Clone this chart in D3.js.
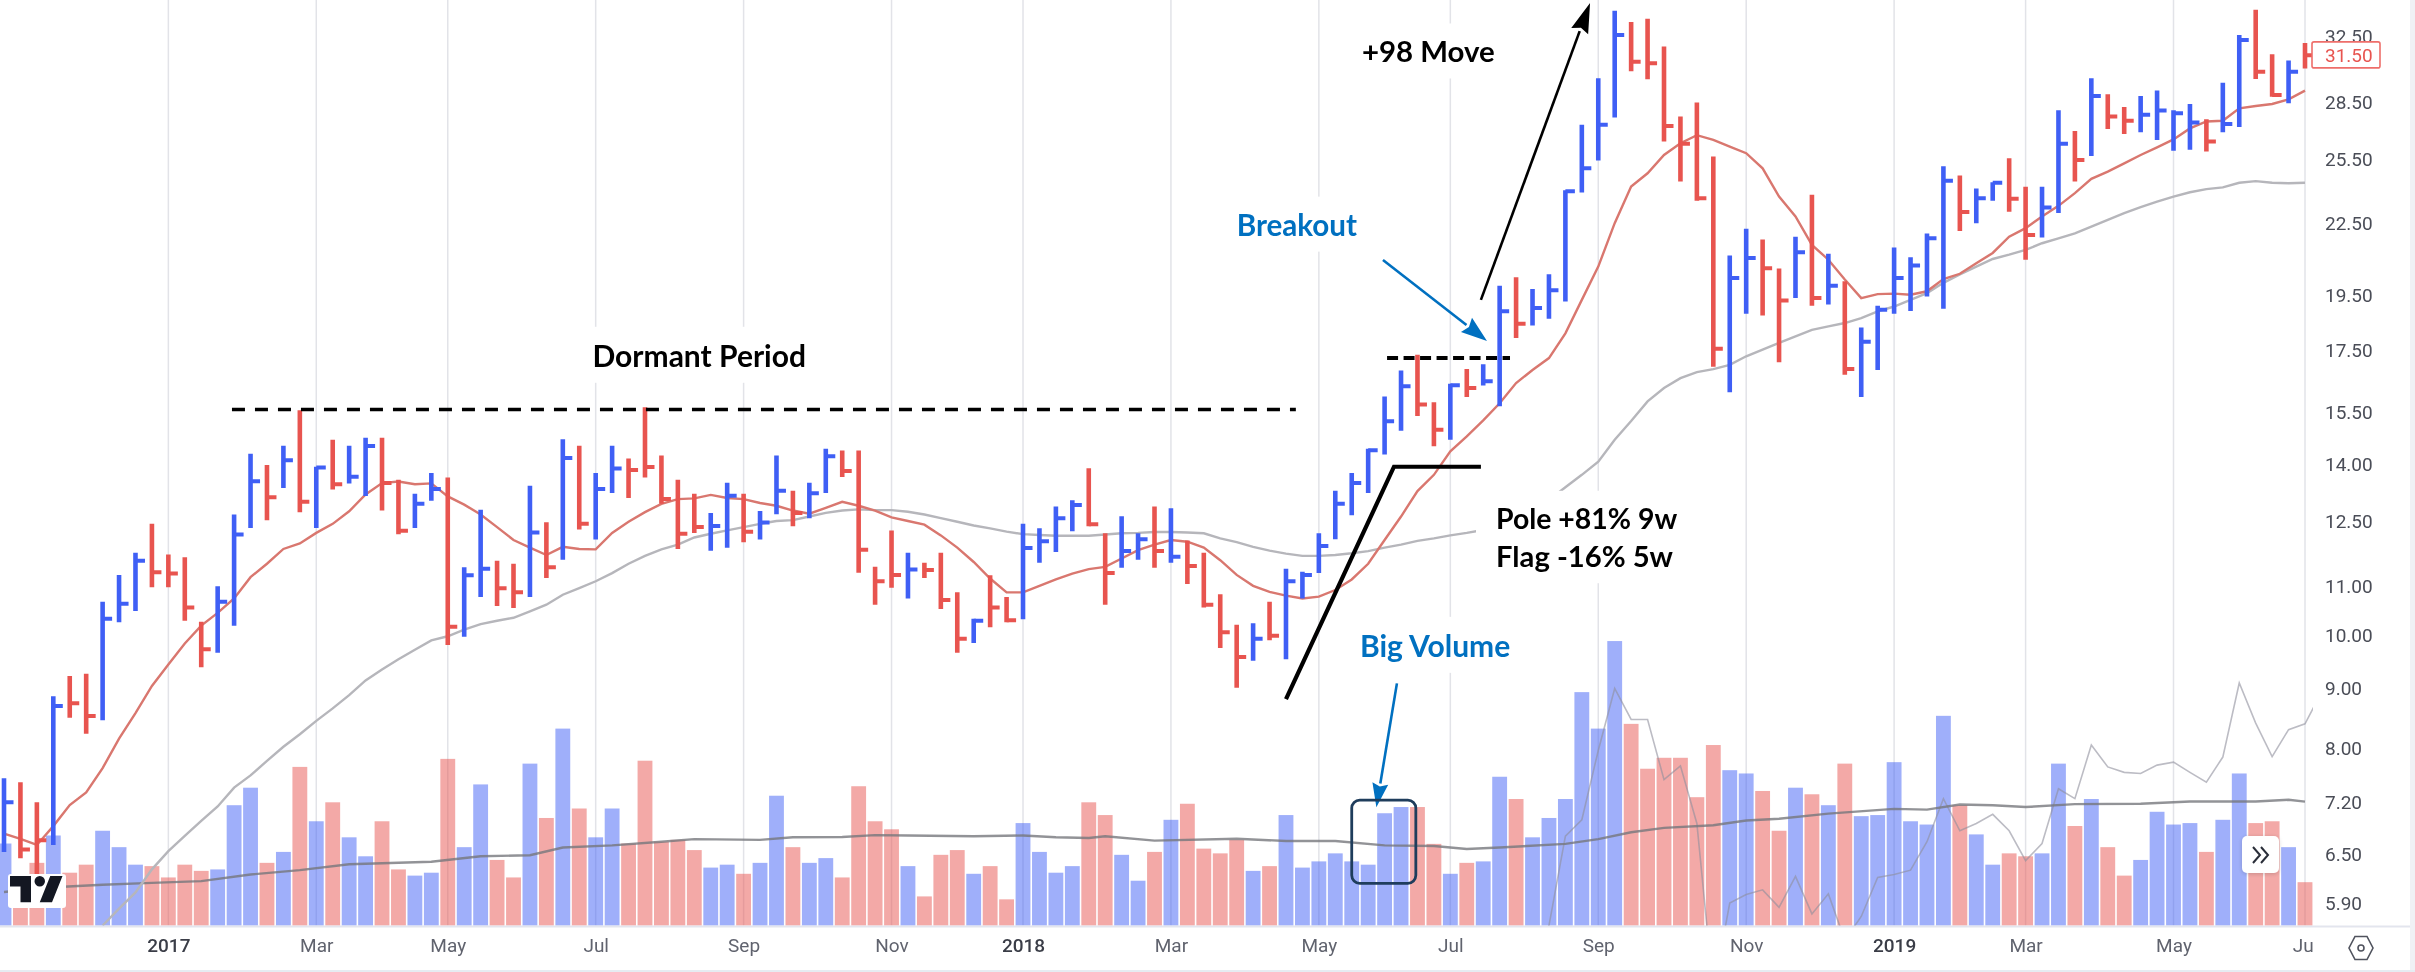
<!DOCTYPE html>
<html><head><meta charset="utf-8">
<script src="https://d3js.org/d3.v7.min.js"></script>
<style>html,body{margin:0;padding:0;background:#fff;overflow:hidden}svg{display:block;filter:blur(0.5px)}</style>
</head><body><div id="chart"></div>
<script>
const barHigh=[7.55,7.49,7.20,8.87,9.23,9.27,10.68,11.26,11.76,12.45,11.72,11.66,10.27,11.01,12.68,14.29,13.98,14.52,15.57,13.93,14.69,14.52,14.75,14.75,13.58,13.21,13.76,13.64,11.43,12.80,11.58,11.51,13.42,12.49,14.70,14.52,13.76,14.52,14.16,15.66,14.24,13.58,13.21,12.72,13.50,13.21,12.77,14.24,13.29,
13.50,14.43,14.38,14.38,11.44,12.29,11.76,11.53,11.76,10.88,10.33,11.25,10.78,12.45,12.34,12.88,13.04,13.89,12.22,12.64,12.22,12.88,12.84,12.05,11.76,10.84,10.21,10.24,10.68,11.40,11.33,12.22,13.29,13.76,14.43,
15.99,16.83,17.36,15.81,16.40,16.88,17.04,19.89,20.22,19.76,20.34,24.00,27.30,29.91,34.15,33.40,33.62,31.84,27.74,28.52,25.64,21.11,22.25,21.78,20.57,21.90,23.78,21.18,20.06,18.32,19.12,21.44,21.03,22.04,25.16,24.70,24.08,24.38,25.56,24.16,24.16,28.09,26.96,29.91,28.98,28.27,28.88,29.19,28.09,28.43,27.59,29.64,32.57,34.22,31.36,30.97,32.05];
const barLow=[6.53,6.45,6.23,6.62,8.50,8.24,8.46,10.26,10.49,10.99,10.99,10.29,9.39,9.66,10.19,12.35,12.54,13.36,12.74,12.35,13.32,13.48,13.15,12.78,12.20,12.35,13.03,9.81,9.97,10.78,10.59,10.55,10.78,11.19,11.60,12.31,12.07,13.23,13.10,13.64,12.95,11.85,12.23,11.81,11.88,12.01,12.07,12.69,12.39,
12.59,13.23,13.65,11.31,10.62,10.98,10.75,11.19,10.53,9.66,9.85,10.16,10.26,10.32,11.53,11.78,12.27,12.39,10.62,11.42,11.60,11.42,11.53,11.06,10.56,9.75,9.02,9.51,9.90,9.54,10.75,11.30,12.08,12.66,13.23,
14.27,14.95,15.39,14.50,14.69,15.98,16.34,15.69,17.94,18.39,18.64,19.28,23.89,25.44,27.69,30.32,29.85,26.41,24.41,23.51,16.96,16.13,18.82,18.76,17.11,19.41,19.12,19.17,16.69,15.98,16.85,18.82,18.92,19.47,19.01,22.15,22.49,23.51,23.00,20.93,21.87,22.94,24.41,25.67,27.07,26.80,26.90,26.49,25.93,25.98,25.90,26.90,27.17,29.87,28.84,28.47,30.49];
const barClose=[7.20,6.56,6.68,8.70,8.75,8.53,10.33,10.64,11.58,11.32,11.29,10.56,9.73,10.68,12.19,13.54,13.12,14.11,13.00,13.91,13.46,13.66,14.51,13.49,12.28,12.95,13.33,10.17,11.25,11.40,10.97,10.88,12.24,11.43,14.17,12.45,13.33,13.88,13.84,13.92,13.07,12.21,12.37,12.40,13.16,12.26,12.48,13.29,12.72,
13.22,14.22,13.81,11.83,11.12,11.26,11.38,11.37,10.72,9.93,10.29,10.56,10.30,11.87,12.03,12.59,12.92,12.44,11.30,11.80,12.08,11.80,11.67,11.46,10.62,10.06,9.58,9.93,9.99,11.12,11.26,11.92,12.95,13.49,14.39,
15.23,16.32,15.74,14.98,16.35,16.26,16.48,18.91,18.45,19.03,19.71,23.95,25.05,27.29,32.57,30.90,30.80,27.23,26.29,23.62,17.57,20.19,21.00,20.58,19.32,21.24,19.41,19.89,16.88,17.81,18.97,20.19,20.69,21.83,24.45,22.99,23.62,24.35,23.60,21.97,23.20,26.29,25.47,28.88,27.74,27.51,27.83,28.07,27.92,27.42,26.41,27.34,32.25,30.30,28.94,30.30,31.30];
const barUp=[1,0,0,1,0,0,1,1,1,0,0,0,0,1,1,1,0,1,0,1,0,1,1,0,0,1,1,0,1,1,0,0,1,0,1,0,1,1,0,0,0,0,0,1,1,0,1,1,0,
1,1,0,0,0,0,1,0,0,0,1,0,0,1,1,1,1,0,0,1,1,0,1,0,0,0,0,1,0,1,1,1,1,1,1,
1,1,0,0,1,0,1,1,0,1,1,1,1,1,1,0,0,0,0,0,0,1,1,0,0,1,0,1,0,1,1,1,1,1,1,0,1,1,0,0,1,1,0,1,0,0,1,1,1,1,0,1,1,0,0,1,0];
const volume=[22.5,14,17.2,24.7,14.5,16.7,26,21.5,16.7,16.3,13.2,16.7,15,15.4,33,37.8,17.2,20.2,43.5,28.6,33.8,24.2,19,28.6,15.4,13.7,14.5,45.7,21.5,38.7,18,13.2,44.4,29.5,54,32.1,24.2,32.1,22.5,45.2,23,23.5,20.7,15.9,16.7,14.2,17.2,35.6,21.5,
17.2,18.5,13.2,38.2,28.6,26.4,16.3,8,19.4,20.7,14.2,16.3,7.2,28.1,20.2,14.5,16.3,33.8,30.3,19.4,12.3,20.2,29,33.4,21.1,19.8,23.5,15,16.3,30.3,15.9,17.6,19.8,17.6,16.7,30.8,32.5,32.5,22.4,14.2,17.2,17.6,40.8,34.7,24.2,29.5,34.7,64,54,
78,55.3,43,46,46,35.2,49.5,42.6,41.7,36.9,26,37.8,36,33,44.4,30,30.3,44.8,28.6,27.7,57.5,33,25,16.7,19.8,19,19.8,44.4,27.3,34.7,21.5,13.7,18,31.2,27.7,28.1,20.2,29,41.7,28.1,28.6,21.5,11.9];
const ma10=[6.77,6.70,6.62,6.87,7.16,7.34,7.70,8.16,8.58,9.05,9.44,9.84,10.19,10.45,10.75,11.21,11.51,11.85,11.98,12.23,12.45,12.76,13.19,13.49,13.53,13.46,13.48,13.14,12.93,12.68,12.37,12.06,11.88,11.71,11.90,11.85,11.84,12.23,12.50,12.74,12.95,13.07,13.09,13.18,13.10,13.07,12.97,12.90,12.78,
12.70,12.85,13.00,12.90,12.78,12.61,12.52,12.43,12.17,11.88,11.55,11.18,10.88,10.88,11.02,11.16,11.29,11.39,11.44,11.63,11.82,11.95,12.06,12.02,11.88,11.59,11.26,11.02,10.89,10.81,10.75,10.79,10.93,11.16,11.51,12.06,12.63,13.28,
13.71,14.36,14.79,15.26,15.78,16.42,16.85,17.25,18.11,19.34,20.65,22.49,24.17,24.81,25.72,26.32,26.74,26.49,26.15,25.81,25.05,23.70,22.79,21.55,20.93,20.13,19.41,19.56,19.58,19.54,19.67,20.15,20.36,20.79,21.21,21.90,22.27,22.79,23.27,23.86,24.54,24.89,25.30,25.72,26.11,26.52,27.10,27.47,27.51,28.19,28.32,28.43,28.69,29.19];
const ma30Start=6;
const ma30=[5.65,5.84,6.03,6.31,6.54,6.74,6.94,7.14,7.41,7.59,7.81,8.03,8.23,8.45,8.66,8.89,9.15,9.35,9.54,9.72,9.90,9.98,10.11,10.22,10.29,10.35,10.48,10.62,10.83,10.97,11.12,11.30,11.51,11.69,11.84,11.95,12.12,12.21,12.29,12.37,12.45,12.52,12.54,
12.63,12.72,12.78,12.81,12.79,12.79,12.75,12.68,12.59,12.50,12.41,12.34,12.26,12.20,12.18,12.16,12.16,12.16,12.19,12.22,12.23,12.25,12.25,12.24,12.22,12.10,12.01,11.90,11.81,11.74,11.69,11.69,11.71,11.75,11.80,11.88,11.95,12.04,12.10,12.17,12.23,
12.30,12.45,12.60,12.80,13.05,13.38,13.71,14.07,14.69,15.24,15.84,16.26,16.58,16.78,16.88,17.02,17.31,17.54,17.77,18.00,18.23,18.36,18.48,18.66,18.91,19.09,19.34,19.60,20.00,20.33,20.65,20.96,21.14,21.34,21.62,21.83,22.04,22.34,22.64,22.94,23.21,23.46,23.70,23.90,24.05,24.13,24.35,24.43,24.35,24.33,24.35];
const volMaIdx=[0,3,6,9,12,15,18,21,26,29,32,34,37,40,42,46,48,51,53,55,59,62,64,66,67,70,75,78,81,84,87,89,91,95,97,99,101,104,106,108,111,115,117,119,121,123,126,130,133,137,139,140];
const volMa=[9.2,10.5,11.2,11.7,12.2,14,15.2,16.8,17.5,19,19.3,21.4,22,23,23.7,23.5,24.2,24.3,24.8,24.7,24.5,24.7,24.2,24,24.5,23.3,23.8,23.2,23.2,22,21.8,21,21.4,22.4,23.7,25.6,26.8,27.5,28.8,29.3,30.7,32,31.8,33.2,33,32.5,33.3,33.4,34,34,34.5,34];
const rsStart=93;
const rsLine=[-14,0,24.5,29,48,65,56.5,56.5,40,43.8,28,-18,6.2,8.5,9.8,5,13.5,3.2,8.7,-4,2.5,13.2,14,15.2,23,34.8,26,28,30.5,26,17.8,22.5,37.5,34.8,49.5,43.5,42,41.7,44,44.8,42,39.3,46.2,66.5,55.5,46.3,53.7,55.3,64];
const priceTicks=[32.5,28.5,25.5,22.5,19.5,17.5,15.5,14,12.5,11,10,9,8,7.2,6.5,5.9];
const timeTickIdx=[10,19,27,36,45,54,62,71,80,88,97,106,115,123,132,140];
const timeTickLabels=["2017","Mar","May","Jul","Sep","Nov","2018","Mar","May","Jul","Sep","Nov","2019","Mar","May","Jul"];
const lastPrice=31.5;

const W=2415,H=972,paneRight=2313,paneBottom=925.6;
const BLUE="#3f5ff5",RED="#e8544f";
const x=d3.scaleLinear().domain([0,140]).range([4,2305]);
const y=d3.scaleLog().domain([5.9,32.5]).range([903.5,36]);
const v=d3.scaleLinear().domain([0,100]).range([paneBottom,paneBottom-364.8]);
const bandW=x(1)-x(0);

const svg=d3.select("#chart").append("svg").attr("width",W).attr("height",H);
const defs=svg.append("defs");
defs.append("clipPath").attr("id","pane").append("rect").attr("x",0).attr("y",0).attr("width",paneRight).attr("height",paneBottom);
defs.append("clipPath").attr("id","timeclip").append("rect").attr("x",0).attr("y",paneBottom).attr("width",paneRight).attr("height",H-paneBottom);
const shadow=defs.append("filter").attr("id","soft").attr("x","-30%").attr("y","-30%").attr("width","160%").attr("height","160%");
shadow.append("feDropShadow").attr("dx",0).attr("dy",1).attr("stdDeviation",2).attr("flood-color","#000").attr("flood-opacity",0.18);

const axisFont='Roboto,"Liberation Sans",sans-serif';
// frame
svg.append("rect").attr("x",2410).attr("y",0).attr("width",5).attr("height",H).attr("fill","#f0f1f5");
svg.append("line").attr("x1",0).attr("x2",2410).attr("y1",paneBottom+1).attr("y2",paneBottom+1).attr("stroke","#e3e5ee").attr("stroke-width",2);
svg.append("line").attr("x1",0).attr("x2",W).attr("y1",971).attr("y2",971).attr("stroke","#e6ecf2").attr("stroke-width",2);

const pane=svg.append("g").attr("clip-path","url(#pane)");
// grid
pane.append("g").selectAll("line").data(timeTickIdx).join("line")
  .attr("x1",d=>x(d)).attr("x2",d=>x(d)).attr("y1",0).attr("y2",paneBottom)
  .attr("stroke","#e2e3e8").attr("stroke-width",1.5);

// volume
pane.append("g").selectAll("rect").data(volume).join("rect")
  .attr("x",(d,i)=>x(i)-bandW/2+0.8).attr("width",bandW-1.6)
  .attr("y",d=>v(d)).attr("height",d=>paneBottom-v(d))
  .attr("fill",(d,i)=>barUp[i]?BLUE:RED).attr("opacity",0.5);

const lineIdx=d3.line().x(d=>x(d[0])).y(d=>v(d[1]));
pane.append("path").attr("d",lineIdx(rsLine.map((d,i)=>[rsStart+i,d])))
  .attr("fill","none").attr("stroke","#8f8f9c").attr("stroke-opacity",0.6).attr("stroke-width",1.6);
pane.append("path").attr("d",lineIdx(volMa.map((d,i)=>[volMaIdx[i],d])))
  .attr("fill","none").attr("stroke","#77787d").attr("stroke-opacity",0.8).attr("stroke-width",2.4);

// price MAs
const priceLine=d3.line().x(d=>x(d[0])).y(d=>y(d[1]));
pane.append("path").attr("d",priceLine(ma30.map((d,i)=>[ma30Start+i,d])))
  .attr("fill","none").attr("stroke","#b6b6bb").attr("stroke-width",2.4);
pane.append("path").attr("d",priceLine(ma10.map((d,i)=>[i,d])))
  .attr("fill","none").attr("stroke","#d9776f").attr("stroke-width",2.4);

// HLC bars
const bars=pane.append("g").selectAll("g").data(barHigh).join("g")
  .attr("stroke",(d,i)=>barUp[i]?BLUE:RED);
bars.append("line").attr("x1",(d,i)=>x(i)).attr("x2",(d,i)=>x(i))
  .attr("y1",d=>y(d)).attr("y2",(d,i)=>y(barLow[i])).attr("stroke-width",4.6);
bars.append("line").attr("x1",(d,i)=>x(i)).attr("x2",(d,i)=>x(i)+9.5)
  .attr("y1",(d,i)=>y(barClose[i])).attr("y2",(d,i)=>y(barClose[i])).attr("stroke-width",4);

// axes
const yAxis=d3.axisRight(y).tickValues(priceTicks).tickFormat(d3.format(".2f")).tickSize(0).tickPadding(0);
const yg=svg.append("g").attr("transform","translate(2325,0)").call(yAxis);
yg.select(".domain").remove();
yg.selectAll("text").attr("font-family",axisFont).attr("font-size",19).attr("fill","#4a4d57");
const isYear=(i)=>/^\d/.test(timeTickLabels[i]);
const xAxis=d3.axisBottom(x).tickValues(timeTickIdx).tickFormat((d,i)=>timeTickLabels[i]).tickSize(0).tickPadding(0);
const xg=svg.append("g").attr("clip-path","url(#timeclip)").append("g").attr("transform","translate(0,938)").call(xAxis);
xg.select(".domain").remove();
xg.selectAll("text").attr("font-family",axisFont).attr("font-size",19)
  .attr("font-weight",(d,i)=>isYear(i)?500:400)
  .attr("fill",(d,i)=>isYear(i)?"#3a3d47":"#60636e");

// last price label
const lp=svg.append("g").attr("transform",`translate(2312,${y(lastPrice)+3})`);
lp.append("rect").attr("x",0).attr("y",-13).attr("width",68).attr("height",26).attr("rx",2).attr("fill","#fff").attr("stroke","#ee6e6a").attr("stroke-width",1.6);
lp.append("text").attr("x",13).attr("dy","0.35em").attr("font-family",axisFont).attr("font-size",19).attr("fill",RED).text(d3.format(".2f")(lastPrice));

// annotations (anchored in data space)
const annoFont='Lato,"Open Sans",sans-serif';
const labels=[
 {t:"Dormant Period",i:42.3,p:17.32,c:"#000",a:"middle",pl:16,s:30},
 {t:"+98 Move",i:82.62,p:31.5,c:"#000",a:"start",pl:16,s:29.4},
 {t:"Breakout",i:75.0,p:22.41,c:"#0070c0",a:"start",pl:16,s:29.6},
 {t:"Big Volume",i:82.5,p:9.79,c:"#0070c0",a:"start",pl:16,s:30},
 {t:"Pole +81% 9w",i:90.78,p:12.58,c:"#000",a:"start",pl:20,s:28.4},
 {t:"Flag -16% 5w",i:90.78,p:11.67,c:"#000",a:"start",pl:20,s:29.2}
];
const maskG=svg.append("g"), annoG=svg.append("g");
labels.forEach(l=>{
  const el=annoG.append("text").attr("x",x(l.i)).attr("y",y(l.p)).attr("dy","0.36em")
    .attr("text-anchor",l.a).attr("font-family",annoFont).attr("font-weight",700).attr("font-size",l.s)
    .attr("fill",l.c).text(l.t);
  const b=el.node().getBBox();
  maskG.append("rect").attr("x",b.x-l.pl).attr("y",b.y-10).attr("width",b.width+l.pl+14).attr("height",b.height+20).attr("fill","#fff");
});
function seg(x1,y1,x2,y2,c,w,dash){
  annoG.append("line").attr("x1",x1).attr("y1",y1).attr("x2",x2).attr("y2",y2).attr("stroke",c).attr("stroke-width",w).attr("stroke-dasharray",dash||null);
}
function arrow(x1,y1,x2,y2,c,w,len,hw){
  const a=Math.atan2(y2-y1,x2-x1),ux=Math.cos(a),uy=Math.sin(a);
  const bx=x2-ux*len,by=y2-uy*len;
  seg(x1,y1,bx,by,c,w);
  annoG.append("path").attr("d",d3.line()([[x2,y2],[bx-uy*hw,by+ux*hw],[bx+ux*len*0.12,by+uy*len*0.12],[bx+uy*hw,by-ux*hw]])+"Z").attr("fill",c);
}
seg(x(13.87),y(15.59),x(78.6),y(15.59),"#000",3.6,"13 10");
seg(x(84.15),y(17.25),x(91.63),y(17.25),"#000",4,"11 5.5");
annoG.append("path").attr("d",priceLine([[78.0,8.82],[84.57,13.93],[89.86,13.93]])).attr("fill","none").attr("stroke","#000").attr("stroke-width",4.2);
arrow(x(89.86),y(19.34),x(96.5),y(34.68),"#000",2.6,30,9);
arrow(x(83.9),y(20.92),x(90.23),y(17.84),"#0070c0",2.6,26,9);
arrow(x(84.75),v(66.4),x(83.5),v(32.45),"#0070c0",2.6,24,8);
annoG.append("rect").attr("x",x(82.0)).attr("y",v(34.4)).attr("width",x(85.9)-x(82.0)).attr("height",v(11.6)-v(34.4))
  .attr("rx",8).attr("fill","none").attr("stroke","#1f3d5c").attr("stroke-width",2.8);

// TradingView mark
const tv=svg.append("g").attr("transform","translate(8,874)");
tv.append("rect").attr("x",0).attr("y",0).attr("width",58).attr("height",34).attr("rx",3).attr("fill","#fff");
tv.append("path").attr("transform","translate(-1.5,-8.5) scale(1.75)").attr("fill","#131722")
  .attr("d","M14 6H2v6h6v9h6V6zm12 15h-7l6-15h7l-6 15zm-7-9a3 3 0 1 0 0-6 3 3 0 0 0 0 6z");

// scroll button
const sb=svg.append("g").attr("transform","translate(2242,836)");
sb.append("rect").attr("width",37).attr("height",37).attr("rx",5).attr("fill","#fff").attr("filter","url(#soft)");
sb.append("path").attr("d","M11 11l7 8-7 8M19 11l7 8-7 8").attr("fill","none").attr("stroke","#2a2e39").attr("stroke-width",2);

// settings hexagon
const hx=svg.append("g").attr("transform","translate(2361,948)");
hx.append("path").attr("d","M-6,-11.5L6,-11.5L12,0L6,11.5L-6,11.5L-12,0Z").attr("fill","none").attr("stroke","#50535e").attr("stroke-width",1.6);
hx.append("circle").attr("r",3).attr("fill","none").attr("stroke","#50535e").attr("stroke-width",1.6);
</script></body></html>
